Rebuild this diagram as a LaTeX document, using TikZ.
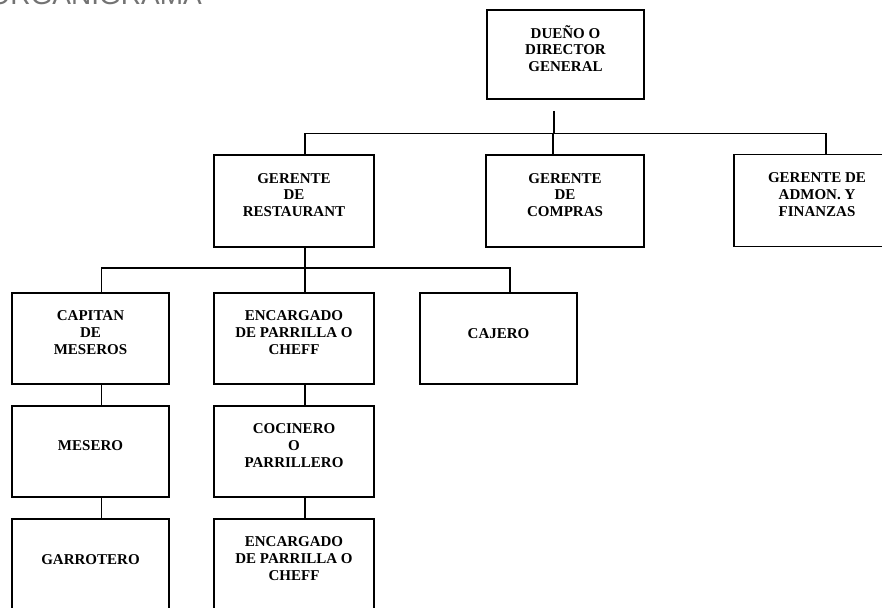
\documentclass[tikz,border=0pt]{standalone}
\usepackage{fontspec}
\setmainfont{Liberation Serif}
\newfontfamily\titlefont{Liberation Sans}
\begin{document}
\begin{tikzpicture}[x=1pt,y=1pt,
  box/.style={draw=black, line width=1.8pt, rectangle, inner sep=0pt, minimum height=#1},
  box/.default=91pt,
  lbl/.style={align=center, inner sep=0pt, font=\fontsize{15}{16.8}\selectfont\bfseries},
  conn/.style={draw=black, line width=1.6pt}]
\useasboundingbox (0,0) rectangle (882,-607);
\clip (0,0) rectangle (882,-607);
\fill[white] (0,0) rectangle (882,-607);
% title (cut off at the top, as in the reference)
\node[anchor=base east, inner sep=0pt, text=black!55, font=\titlefont\fontsize{28}{30}\selectfont] (title) at (202,-4.5) {ORGANIGRAMA};
% level 1
\node[box=89pt, minimum width=157pt] (top) at (565.5,-54.5) {};
\node[lbl] (topt) at ([yshift=6pt]top.center) {DUEÑO O\\DIRECTOR\\GENERAL};
% level 2
\node[box=92pt, minimum width=160pt] (rest) at (294,-201) {};
\node[lbl] (restt) at ([yshift=6pt]rest.center) {GERENTE\\DE\\RESTAURANT};
\node[box=92pt, minimum width=158pt] (compras) at (565,-201) {};
\node[lbl] (comprast) at ([yshift=6pt]compras.center) {GERENTE\\DE\\COMPRAS};
\node[box=92pt, minimum width=160pt] (admon) at (814,-200.5) {};
\node[lbl] (admont) at ([xshift=3pt,yshift=6pt]admon.center) {GERENTE DE\\ADMON. Y\\FINANZAS};
% level 3
\node[box, minimum width=157pt] (capitan) at (90.5,-338.5) {};
\node[lbl] (capitant) at ([yshift=6pt]capitan.center) {CAPITAN\\DE\\MESEROS};
\node[box, minimum width=160pt] (enc) at (294,-338.5) {};
\node[lbl] (enct) at ([yshift=6pt]enc.center) {ENCARGADO\\DE PARRILLA O\\CHEFF};
\node[box, minimum width=157pt] (cajero) at (498.5,-338.5) {};
\node[lbl] (cajerot) at ([yshift=5pt]cajero.center) {CAJERO};
% level 4
\node[box, minimum width=157pt] (mesero) at (90.5,-451.5) {};
\node[lbl] (merserot) at ([yshift=6pt]mesero.center) {MESERO};
\node[box, minimum width=160pt] (cocinero) at (294,-451.5) {};
\node[lbl] (cocinerot) at ([yshift=6pt]cocinero.center) {COCINERO\\O\\PARRILLERO};
% level 5
\node[box, minimum width=157pt] (garrotero) at (90.5,-564.5) {};
\node[lbl] (garroterot) at ([yshift=5pt]garrotero.center) {GARROTERO};
\node[box, minimum width=160pt] (enc2) at (294,-564.5) {};
\node[lbl] (enc2t) at ([yshift=6pt]enc2.center) {ENCARGADO\\DE PARRILLA O\\CHEFF};
% connectors
\coordinate (bar1) at (0,-133.5);
\coordinate (bar2) at (0,-268);
\draw[conn] ([xshift=-11.5pt,yshift=-11pt]top.south) -- ([xshift=-11.5pt]top.south |- bar1);
\draw[conn] ([xshift=11pt]rest.north) |- ([xshift=12pt]admon.north |- bar1) -- ([xshift=12pt]admon.north);
\draw[conn] ([xshift=-12pt]compras.north) -- ([xshift=-12pt]compras.north |- bar1);
\draw[conn] ([xshift=11pt]rest.south) -- ([xshift=11pt]rest.south |- bar2);
\draw[conn] ([xshift=11pt]capitan.north) |- ([xshift=11.5pt]cajero.north |- bar2) -- ([xshift=11.5pt]cajero.north);
\draw[conn] ([xshift=11pt]enc.north) -- ([xshift=11pt]enc.north |- bar2);
\draw[conn] ([xshift=11pt]capitan.south) -- ([xshift=11pt]mesero.north);
\draw[conn] ([xshift=11pt]mesero.south) -- ([xshift=11pt]garrotero.north);
\draw[conn] ([xshift=11pt]enc.south) -- ([xshift=11pt]cocinero.north);
\draw[conn] ([xshift=11pt]cocinero.south) -- ([xshift=11pt]enc2.north);
\end{tikzpicture}
\end{document}
